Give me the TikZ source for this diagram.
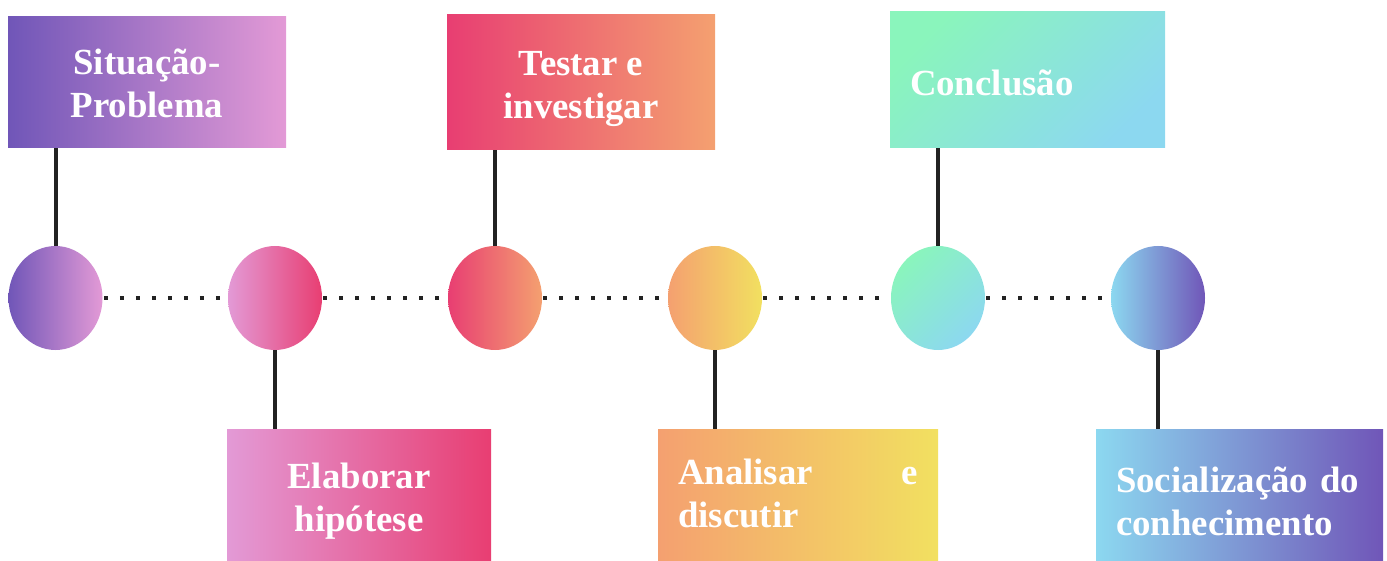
\documentclass[tikz,border=0pt]{standalone}
\usepackage{fontspec}
\setmainfont{Liberation Serif}
\usetikzlibrary{shapes.geometric}
\definecolor{cpurple}{HTML}{7056B8}
\definecolor{cpink}{HTML}{E39AD6}
\definecolor{cred}{HTML}{E83E72}
\definecolor{corange}{HTML}{F4A070}
\definecolor{cyellow}{HTML}{F2E060}
\definecolor{cgreen}{HTML}{8AF5BC}
\definecolor{ccyan}{HTML}{8CD8F0}
\definecolor{cline}{HTML}{222222}
\begin{document}
\begin{tikzpicture}[x=0.5pt,y=-0.5pt,
  box/.style={rectangle, inner sep=0pt},
  txt/.style={inner sep=0pt, text=white,
    font=\fontsize{18.4}{21.5}\selectfont\bfseries, align=center},
  dotcirc/.style={ellipse, minimum width=47pt, minimum height=52pt, inner sep=0pt},
  conn/.style={line width=2pt, draw=cline},
  dots/.style={line width=2pt, draw=cline, dash pattern=on 2pt off 6pt}]
\useasboundingbox (0,0) rectangle (1387,561);

% boxes
\node[box, left color=cpurple, right color=cpink, minimum width=139pt, minimum height=65.5pt]
  (b1) at (147,82.5) {};
\node[box, left color=cred, right color=corange, minimum width=134pt, minimum height=67.5pt]
  (b2) at (581,82.5) {};
\node[box, left color=cgreen, right color=ccyan, shading angle=45, minimum width=137.5pt, minimum height=68pt]
  (b3) at (1027.5,80) {};
\node[box, left color=cpink, right color=cred, minimum width=132pt, minimum height=66pt]
  (b4) at (359,495) {};
\node[box, left color=corange, right color=cyellow, minimum width=140pt, minimum height=66pt]
  (b5) at (798,495) {};
\node[box, left color=ccyan, right color=cpurple, minimum width=143.5pt, minimum height=66pt]
  (b6) at (1239.5,495) {};

% texts
\node[txt] (t1) at (147,83.5) {Situação-\\Problema};
\node[txt] (t2) at (581,89.5) {Testar e\\investigar};
\node[txt, text width=117.5pt, align=left] (t3) at (1027.5,83) {Conclusão};
\node[txt] (t4) at (359,501) {Elaborar\\hipótese};
\node[txt, text width=120pt, align=left] (t5) at (798,493) {\makebox[120pt][s]{Analisar\hfill e}\\discutir};
\node[txt, text width=123.5pt, align=left] (t6) at (1239.5,501) {Socialização do\\conhecimento};

% circles
\node[dotcirc, left color=cpurple, right color=cpink] (c1) at (55.5,298) {};
\node[dotcirc, left color=cpink, right color=cred] (c2) at (275,298) {};
\node[dotcirc, left color=cred, right color=corange] (c3) at (495,298) {};
\node[dotcirc, left color=corange, right color=cyellow] (c4) at (715,298) {};
\node[dotcirc, left color=cgreen, right color=ccyan, shading angle=45] (c5) at (938,298) {};
\node[dotcirc, left color=ccyan, right color=cpurple] (c6) at (1158,298) {};

% connectors
\draw[conn] (c1.north) -- (c1.north |- b1.south);
\draw[conn] (c3.north) -- (c3.north |- b2.south);
\draw[conn] (c5.north) -- (c5.north |- b3.south);
\draw[conn] (c2.south) -- (c2.south |- b4.north);
\draw[conn] (c4.south) -- (c4.south |- b5.north);
\draw[conn] (c6.south) -- (c6.south |- b6.north);

% dotted line
\draw[dots] ([xshift=0.5pt]c1.east) -- (c2.west);
\draw[dots] ([xshift=0.5pt]c2.east) -- (c3.west);
\draw[dots] ([xshift=0.5pt]c3.east) -- (c4.west);
\draw[dots] ([xshift=0.5pt]c4.east) -- (c5.west);
\draw[dots] ([xshift=0.5pt]c5.east) -- (c6.west);
\end{tikzpicture}
\end{document}
